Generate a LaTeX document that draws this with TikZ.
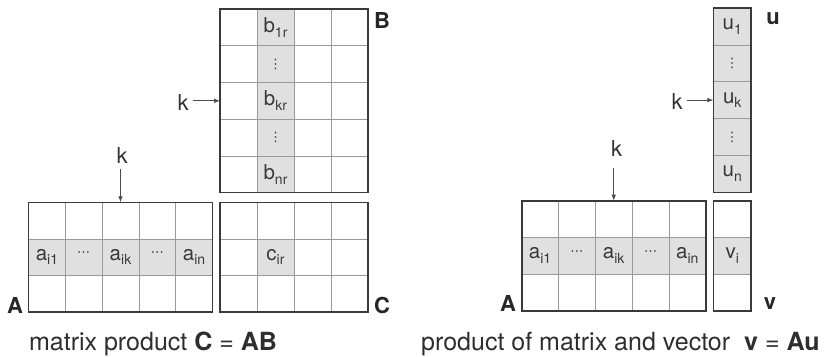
\documentclass[tikz,border=0pt]{standalone}
\usepackage{fontspec}
\setmainfont{TeX Gyre Heros}
\newfontfamily\djv{DejaVu Sans}
\usetikzlibrary{arrows.meta}
\definecolor{cellgray}{HTML}{E0E0E0}
\definecolor{gridgray}{HTML}{9A9A9A}
\definecolor{bordergray}{HTML}{3A3A3A}
\newcommand\mysub[1]{\raisebox{-0.45ex}{\fontsize{14}{14}\selectfont #1}}
\newcommand\hdts{{\djv\fontsize{13}{13}\selectfont ⋯}}
\newcommand\vdts{{\djv\fontsize{13}{13}\selectfont ⋮}}
\begin{document}
\begin{tikzpicture}[x=1pt,y=-1pt,
  grid/.style={draw=gridgray,line width=0.6pt},
  border/.style={draw=bordergray,line width=1.6pt},
  shade/.style={fill=cellgray},
  cell/.style={font=\fontsize{20.5}{20.5}\selectfont,text=black!78,inner sep=0pt},
  dotcell/.style={text=black!78,inner sep=0pt},
  mlabel/.style={font=\fontsize{22}{22}\selectfont\bfseries,text=black!85,inner sep=0pt},
  klabel/.style={font=\fontsize{22}{22}\selectfont,text=black!80,inner sep=0pt},
  caption/.style={font=\fontsize{25}{25}\selectfont,text=black!82,inner sep=0pt},
  karrow/.style={draw=black!70,line width=0.7pt,-{Latex[length=6pt,width=4.5pt]}}]
\useasboundingbox (0,0) rectangle (832,356);
% ---------------- Left: matrix product ----------------
% B (4 cols x 5 rows)
\fill[shade] (257,9) rectangle (294,192.5);
\foreach \x in {257,294,331} \draw[grid] (\x,9) -- (\x,192.5);
\foreach \y in {45.7,82.4,119.1,155.8} \draw[grid] (220,\y) -- (368,\y);
\draw[border] (220,9) rectangle (368,192.5);
% A (5 cols x 3 rows)
\fill[shade] (28.5,238.8) rectangle (212.5,275.2);
\foreach \x in {65.3,102.1,138.9,175.7} \draw[grid] (\x,202.3) -- (\x,311.7);
\foreach \y in {238.8,275.2} \draw[grid] (28.5,\y) -- (212.5,\y);
\draw[border] (28.5,202.3) rectangle (212.5,311.7);
% C (4 cols x 3 rows)
\fill[shade] (257,238.8) rectangle (294,275.2);
\foreach \x in {257,294,331} \draw[grid] (\x,202.3) -- (\x,311.7);
\foreach \y in {238.8,275.2} \draw[grid] (220,\y) -- (368,\y);
\draw[border] (220,202.3) rectangle (368,311.7);
% B entries
\node[cell] (b1) at (275.5,27.4) {b\mysub{1r}};
\node[dotcell] (bd1) at (275.5,64) {\vdts};
\node[cell] (bk) at (275.5,100.8) {b\mysub{kr}};
\node[dotcell] (bd2) at (275.5,137.5) {\vdts};
\node[cell] (bn) at (275.5,174.2) {b\mysub{nr}};
% A entries
\node[cell] (a1) at (46.9,257) {a\mysub{i1}};
\node[dotcell] (ad1) at (83.7,254.5) {\hdts};
\node[cell] (ak) at (120.5,257) {a\mysub{ik}};
\node[dotcell] (ad2) at (157.3,254.5) {\hdts};
\node[cell] (an) at (194.1,257) {a\mysub{in}};
% C entry
\node[cell] (cir) at (275.5,257) {c\mysub{ir}};
% labels
\node[mlabel] (labB) at (382,20) {B};
\node[mlabel] (labA) at (15,305) {A};
\node[mlabel] (labC) at (382,305) {C};
% k arrows
\node[klabel] (kB) at (183,102) {k};
\coordinate (kBend) at (220,100.8);
\draw[karrow] (kB.east) ++(4,-1.2) coordinate (kBs) -- (kBend);
\node[klabel] (kA) at (122,155) {k};
\coordinate (kAs) at (120.5,169);
\coordinate (kAend) at (120.5,202.3);
\draw[karrow] (kAs) -- (kAend);
% caption
\node[caption,anchor=base] (cap1) at (153,350) {matrix product \textbf{C} = \textbf{AB}};
% ---------------- Right: matrix-vector ----------------
% u vector
\fill[shade] (713.3,8) rectangle (751,192.3);
\foreach \y in {44.9,81.7,118.6,155.4} \draw[grid] (713.3,\y) -- (751,\y);
\draw[border] (713.3,8) rectangle (751,192.3);
% A2
\fill[shade] (521.7,237.4) rectangle (705.7,274);
\foreach \x in {558.5,595.3,632.1,668.9} \draw[grid] (\x,200.7) -- (\x,310.7);
\foreach \y in {237.4,274} \draw[grid] (521.7,\y) -- (705.7,\y);
\draw[border] (521.7,200.7) rectangle (705.7,310.7);
% v vector
\fill[shade] (713.3,237.4) rectangle (751,274);
\foreach \y in {237.4,274} \draw[grid] (713.3,\y) -- (751,\y);
\draw[border] (713.3,200.7) rectangle (751,310.7);
% u entries
\node[cell] (u1) at (732.2,26.4) {u\mysub{1}};
\node[dotcell] (ud1) at (732.2,63.5) {\vdts};
\node[cell] (uk) at (732.2,100.1) {u\mysub{k}};
\node[dotcell] (ud2) at (732.2,137) {\vdts};
\node[cell] (un) at (732.2,173.8) {u\mysub{n}};
% A2 entries
\node[cell] (a21) at (540.1,255.7) {a\mysub{i1}};
\node[dotcell] (a2d1) at (576.9,253.2) {\hdts};
\node[cell] (a2k) at (613.7,255.7) {a\mysub{ik}};
\node[dotcell] (a2d2) at (650.5,253.2) {\hdts};
\node[cell] (a2n) at (687.3,255.7) {a\mysub{in}};
% v entry
\node[cell] (vi) at (732.2,255.7) {v\mysub{i}};
% labels
\node[mlabel] (labu) at (773,19) {u};
\node[mlabel] (labA2) at (508,303) {A};
\node[mlabel] (labv) at (770,304) {v};
% k arrows
\node[klabel] (ku) at (677,101) {k};
\coordinate (kuend) at (713.3,100.1);
\draw[karrow] (ku.east) ++(4,-0.9) coordinate (kus) -- (kuend);
\node[klabel] (kA2) at (616.7,148) {k};
\coordinate (kA2s) at (613.7,168);
\coordinate (kA2end) at (613.7,200.7);
\draw[karrow] (kA2s) -- (kA2end);
% caption
\node[caption,anchor=base west] (cap2) at (421,350) {product of matrix and vector\hspace{14pt}\textbf{v} = \textbf{Au}};
\end{tikzpicture}
\end{document}
